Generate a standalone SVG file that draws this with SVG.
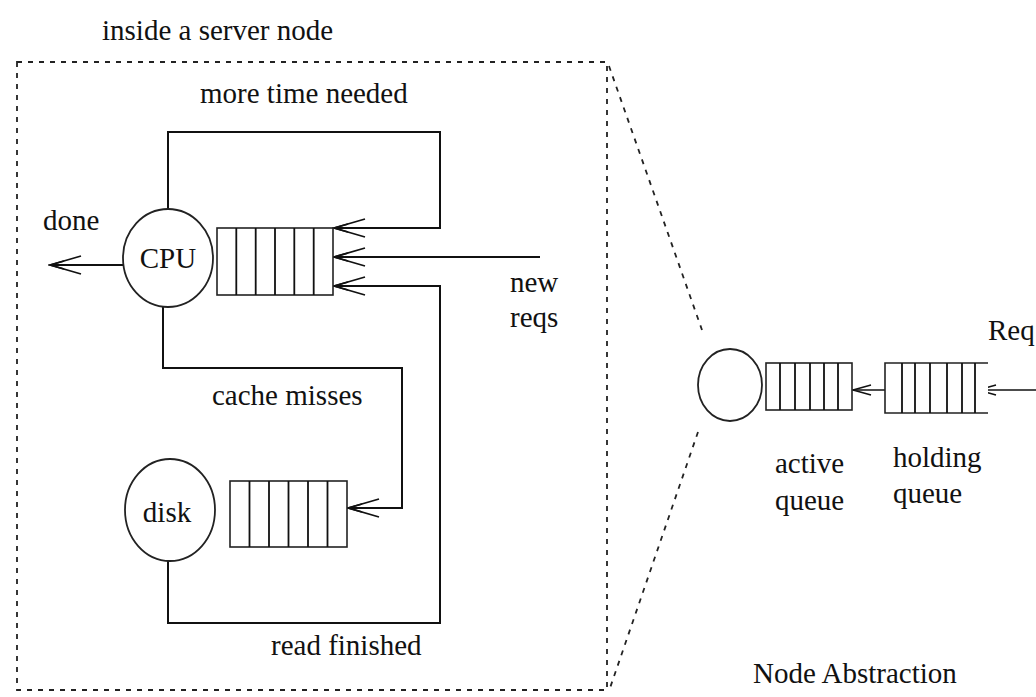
<svg xmlns="http://www.w3.org/2000/svg" width="1036" height="697" viewBox="0 0 1036 697">
<defs>
<style>
.t{font-family:"Liberation Serif","Times New Roman",serif;font-size:29px;fill:#111;}
.ln{fill:none;stroke:#111;stroke-width:2;}
.q{fill:#fff;stroke:#222;stroke-width:1.6;}
.dv{stroke:#111;stroke-width:1.8;}
.dash{fill:none;stroke:#222;stroke-width:1.8;stroke-dasharray:5 6;}
.nd{fill:#fff;stroke:#222;stroke-width:1.8;}
</style>
<marker id="big" markerUnits="userSpaceOnUse" markerWidth="36" markerHeight="22" viewBox="0 0 36 22" refX="34" refY="11" orient="auto">
<path d="M3,2 L34,11 L3,20" fill="none" stroke="#111" stroke-width="1.8"/>
<path d="M20,7 L34,11 L20,15" fill="none" stroke="#111" stroke-width="1.8"/>
</marker>
<marker id="small" markerUnits="userSpaceOnUse" markerWidth="22" markerHeight="14" viewBox="0 0 22 14" refX="20" refY="7" orient="auto">
<path d="M2,2 L20,7 L2,12" fill="none" stroke="#111" stroke-width="1.5"/>
</marker>
</defs>
<rect width="1036" height="697" fill="#fff"/>

<g id="labels">
<text class="t" x="102" y="40">inside a server node</text>
<text class="t" x="200" y="103">more time needed</text>
<text class="t" x="43" y="230">done</text>
<text class="t" x="510" y="292">new</text>
<text class="t" x="510" y="327">reqs</text>
<text class="t" x="212" y="405">cache misses</text>
<text class="t" x="271" y="655">read finished</text>
<text class="t" x="988" y="340">Req</text>
<text class="t" x="775" y="473">active</text>
<text class="t" x="775" y="510">queue</text>
<text class="t" x="893" y="467">holding</text>
<text class="t" x="893" y="503">queue</text>
<text class="t" x="753" y="683">Node Abstraction</text>
</g>

<g id="server-box">
<rect class="dash" x="17" y="62" width="590" height="628"/>
</g>

<g id="connectors">
<path class="ln" d="M168 210 V132 H440 V228 H334" marker-end="url(#big)"/>
<path class="ln" d="M540 257 H334" marker-end="url(#big)"/>
<path class="ln" d="M168 560 V623 H440 V286 H334" marker-end="url(#big)"/>
<path class="ln" d="M163 306 V368 H402 V508 H348" marker-end="url(#big)"/>
<path class="ln" d="M123 265 H50" marker-end="url(#big)"/>
<path class="dash" d="M609 66 L702 330"/>
<path class="dash" d="M698 432 L610 688"/>
<path class="ln" style="stroke-width:1.5" d="M885 390 H853" marker-end="url(#small)"/>
<path class="ln" style="stroke-width:1.5" d="M1036 390 H978" marker-end="url(#small)"/>
</g>

<g id="cpu">
<ellipse class="nd" cx="168" cy="258" rx="45" ry="49"/>
<text class="t" x="168" y="268" text-anchor="middle">CPU</text>
</g>

<g id="cpu-queue">
<rect class="q" x="217" y="228" width="116" height="67"/>
<path class="dv" d="M236.3 228 V295 M255.7 228 V295 M275 228 V295 M294.3 228 V295 M313.7 228 V295"/>
</g>

<g id="disk">
<ellipse class="nd" cx="170" cy="510" rx="45" ry="51"/>
<text class="t" x="167" y="522" text-anchor="middle">disk</text>
</g>

<g id="disk-queue">
<rect class="q" x="230" y="481" width="117" height="66"/>
<path class="dv" d="M249.5 481 V547 M269 481 V547 M288.5 481 V547 M308 481 V547 M327.5 481 V547"/>
</g>

<g id="node">
<ellipse class="nd" cx="730" cy="385" rx="32" ry="36"/>
</g>

<g id="active-queue">
<rect class="q" x="766" y="363" width="86" height="47"/>
<path class="dv" d="M780 363 V410 M795 363 V410 M810 363 V410 M824 363 V410 M838 363 V410"/>
</g>

<g id="holding-queue">
<path class="q" d="M988 363 H885 V413 H988" fill="none"/>
<path class="dv" d="M902 363 V413 M915 363 V413 M930 363 V413 M947 363 V413 M962 363 V413 M975 363 V413"/>
</g>
</svg>
